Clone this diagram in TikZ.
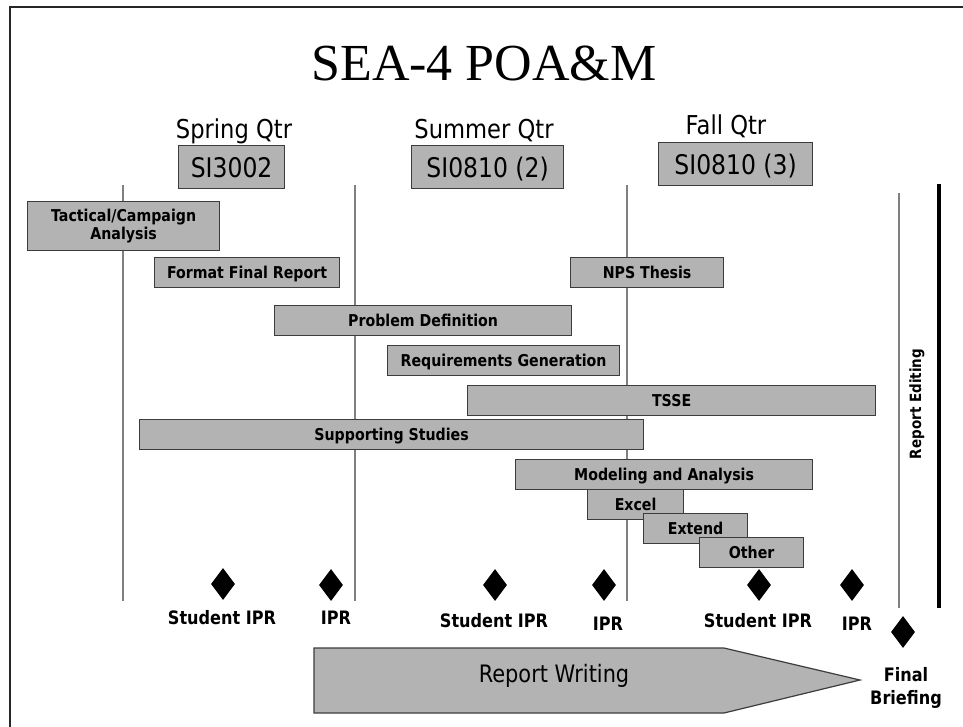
\documentclass[tikz,border=0pt]{standalone}
\usepackage{fontspec}
\setmainfont{Liberation Serif}
\newfontfamily\tah[FakeStretch=0.87]{DejaVu Sans}
\newfontfamily\tahb[FakeStretch=0.87]{DejaVu Sans Bold}
\usetikzlibrary{shapes.geometric}
\definecolor{barfill}{RGB}{179,179,179}
\definecolor{barline}{RGB}{60,60,60}
\definecolor{guide}{RGB}{128,128,128}
\tikzset{
  bar/.style={draw=barline, line width=1.2pt, fill=barfill, inner sep=0pt,
    anchor=north west, align=center, text height=12pt, text depth=0pt,
    font=\tahb\fontsize{16.3}{18}\selectfont},
  course/.style={draw=barline, line width=1.2pt, fill=barfill, inner sep=0pt,
    anchor=north west, text height=20pt, text depth=0pt,
    font=\tah\fontsize{27}{30}\selectfont},
  qtr/.style={anchor=base, inner sep=0pt, font=\tah\fontsize{26}{30}\selectfont},
  milestone/.style={diamond, fill=black, minimum width=24pt, minimum height=32pt, inner sep=0pt},
  mlabel/.style={anchor=base, inner sep=0pt, align=center, font=\tahb\fontsize{18.5}{23}\selectfont},
  guideline/.style={draw=guide, line width=1.5pt},
}
\begin{document}
\begin{tikzpicture}[x=1pt, y=-1pt]
\useasboundingbox (0,0) rectangle (963,727);
% slide frame (only top and left edges fall inside the page)
\draw[line width=2pt, black!85] (10,727) -- (10,7) -- (963,7);

% title
\node[inner sep=0pt, anchor=base, font=\fontsize{52}{60}\selectfont] (title) at (484,81) {SEA-4 POA\&M};

% quarter headings and course boxes
\node[qtr] (spring) at (234,139) {Spring Qtr};
\node[qtr] (summer) at (484,139) {Summer Qtr};
\node[qtr] (fall) at (726,135) {Fall Qtr};
\node[course, minimum width=106pt, minimum height=43pt] (si3002) at (178,145) {SI3002};
\node[course, minimum width=152pt, minimum height=43pt] (si0810a) at (411,145) {SI0810 (2)};
\node[course, minimum width=154pt, minimum height=43pt] (si0810b) at (658,142) {SI0810 (3)};

% quarter boundaries
\coordinate (q0t) at (123,185); \coordinate (q0b) at (123,601);
\coordinate (q1t) at (355,185); \coordinate (q1b) at (355,601);
\coordinate (q2t) at (627,185); \coordinate (q2b) at (627,601);
\coordinate (q3t) at (899,193); \coordinate (q3b) at (899,608);
\draw[guideline] (q0t) -- (q0b);
\draw[guideline] (q1t) -- (q1b);
\draw[guideline] (q2t) -- (q2b);
\draw[guideline] (q3t) -- (q3b);
\coordinate (edt) at (939,184); \coordinate (edb) at (939,608);
\draw[line width=3.5pt, black] (edt) -- (edb);
\node[rotate=90, inner sep=0pt, font=\tahb\fontsize{15.5}{18}\selectfont] (editing) at (917,404) {Report Editing};

% task bars
\node[bar, text height=, text depth=, minimum width=192pt, minimum height=49pt] (tac) at (27,201) {Tactical/Campaign\\Analysis};
\node[bar, minimum width=185pt, minimum height=30pt] (ffr) at (154,257) {Format Final Report};
\node[bar, minimum width=153pt, minimum height=30pt] (nps) at (570,257) {NPS Thesis};
\node[bar, minimum width=297pt, minimum height=30pt] (pd) at (274,305) {Problem Definition};
\node[bar, minimum width=232pt, minimum height=30pt] (rg) at (387,345) {Requirements Generation};
\node[bar, minimum width=408pt, minimum height=30pt] (tsse) at (467,385) {TSSE};
\node[bar, minimum width=504pt, minimum height=30pt] (ss) at (139,419) {Supporting Studies};
\node[bar, minimum width=297pt, minimum height=30pt] (ma) at (515,459) {Modeling and Analysis};
\node[bar, minimum width=96pt, minimum height=30pt] (excel) at (587,489) {Excel};
\node[bar, minimum width=104pt, minimum height=30pt] (extend) at (643,513) {Extend};
\node[bar, minimum width=104pt, minimum height=30pt] (other) at (699,537) {Other};

% milestones
\node[milestone] (m1) at (223,584) {};
\node[milestone] (m2) at (331,585) {};
\node[milestone] (m3) at (495,585) {};
\node[milestone] (m4) at (604,585) {};
\node[milestone] (m5) at (759,585) {};
\node[milestone] (m6) at (852,585) {};
\node[milestone] (m7) at (903,632) {};
\node[mlabel] (l1) at (222,624) {Student IPR};
\node[mlabel] (l2) at (336,624) {IPR};
\node[mlabel] (l3) at (494,627) {Student IPR};
\node[mlabel] (l4) at (608,630) {IPR};
\node[mlabel] (l5) at (758,627) {Student IPR};
\node[mlabel] (l6) at (857,630) {IPR};
\node[mlabel] (l7) at (906,704) {Final\\Briefing};

% report writing arrow
\draw[draw=barline, line width=1.2pt, fill=barfill] (314,648) -- (724,648) -- (860,680) -- (724,713) -- (314,713) -- cycle;
\node[inner sep=0pt, anchor=base, font=\tah\fontsize{24}{28}\selectfont] (rw) at (554,682) {Report Writing};
\end{tikzpicture}
\end{document}
